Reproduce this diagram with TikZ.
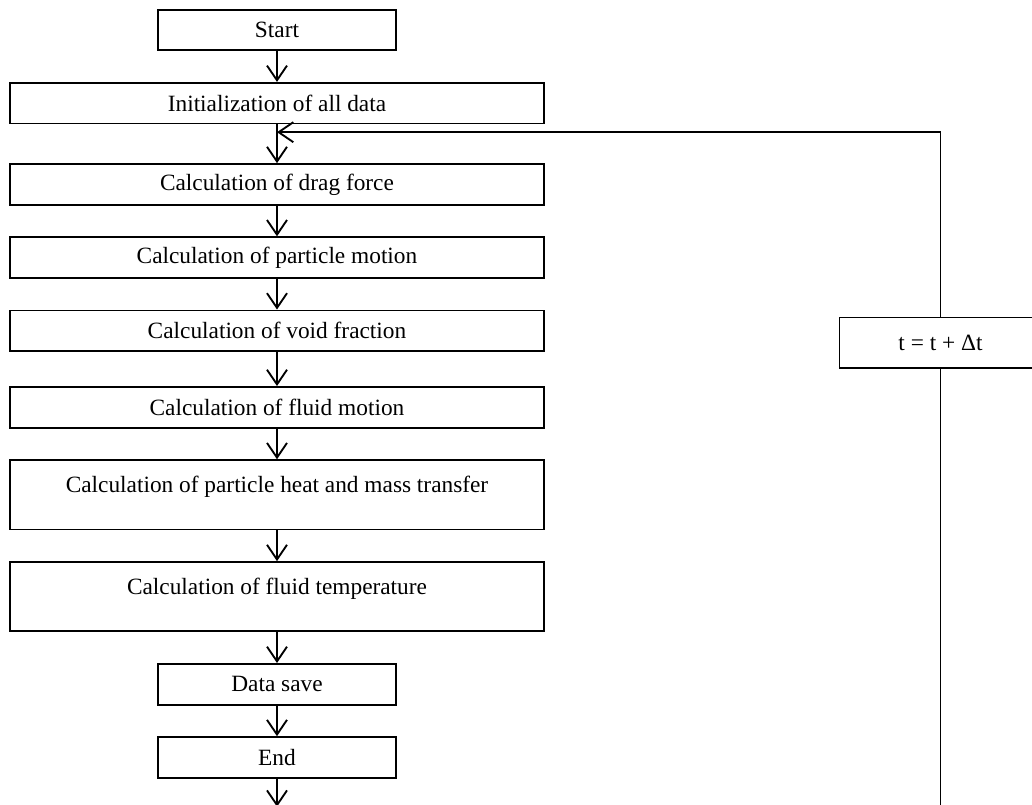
\documentclass[tikz,border=0pt]{standalone}
\usepackage{fontspec}
\setmainfont{Liberation Serif}
\usetikzlibrary{positioning,arrows.meta,calc}

\begin{document}
\begin{tikzpicture}[
  >={Straight Barb[length=11pt,width=15pt]},
  font=\fontsize{17.5}{21}\selectfont,
  node distance=23pt,
  line width=1.4pt,
  stepbox/.style ={draw, align=center, minimum width=401pt, minimum height=30.5pt, inner sep=2pt},
  tallbox/.style ={stepbox, minimum height=52pt, text height=12pt, text depth=15pt},
  endbox/.style  ={draw, align=center, minimum width=178.5pt, minimum height=30.5pt, inner sep=2pt},
  timebox/.style ={draw, align=center, minimum width=151.5pt, minimum height=38pt, inner sep=2pt},
  arr/.style     ={->}
]
\useasboundingbox (-207.75pt,22.5pt) rectangle (566.25pt,-581.25pt);

% --- main column ---
\node[endbox]                       (start) {Start};
\node[stepbox, below=of start]      (init)  {Initialization of all data};
\node[stepbox, below=29pt of init]  (drag)  {Calculation of drag force};
\node[stepbox, below=of drag]       (pmot)  {Calculation of particle motion};
\node[stepbox, below=of pmot]       (void)  {Calculation of void fraction};
\node[stepbox, below=25.5pt of void] (fmot) {Calculation of fluid motion};
\node[tallbox, below=of fmot]       (heat)  {Calculation of particle heat and mass transfer};
\node[tallbox, below=of heat]       (ftemp) {Calculation of fluid temperature};
\node[endbox,  below=of ftemp]      (save)  {Data save};
\node[endbox,  below=of save]       (end)   {End};
\coordinate[below=21pt of end] (out);

\draw[arr] (start) -- (init);
\draw[arr] (init)  -- (drag);
\draw[arr] (drag)  -- (pmot);
\draw[arr] (pmot)  -- (void);
\draw[arr] (void)  -- (fmot);
\draw[arr] (fmot)  -- (heat);
\draw[arr] (heat)  -- (ftemp);
\draw[arr] (ftemp) -- (save);
\draw[arr] (save)  -- (end);
\draw[arr] (end)   -- (out);

% --- time step loop on the right ---
\node[timebox, right=220pt of void, yshift=-9pt] (tstep) {t = t + Δt};
\coordinate (merge) at ($(init.south)!0.2!(drag.north)$);
\draw[arr] (tstep.north) |- (merge);
\draw (tstep.south) -- (tstep |- out);

\end{tikzpicture}
\end{document}
